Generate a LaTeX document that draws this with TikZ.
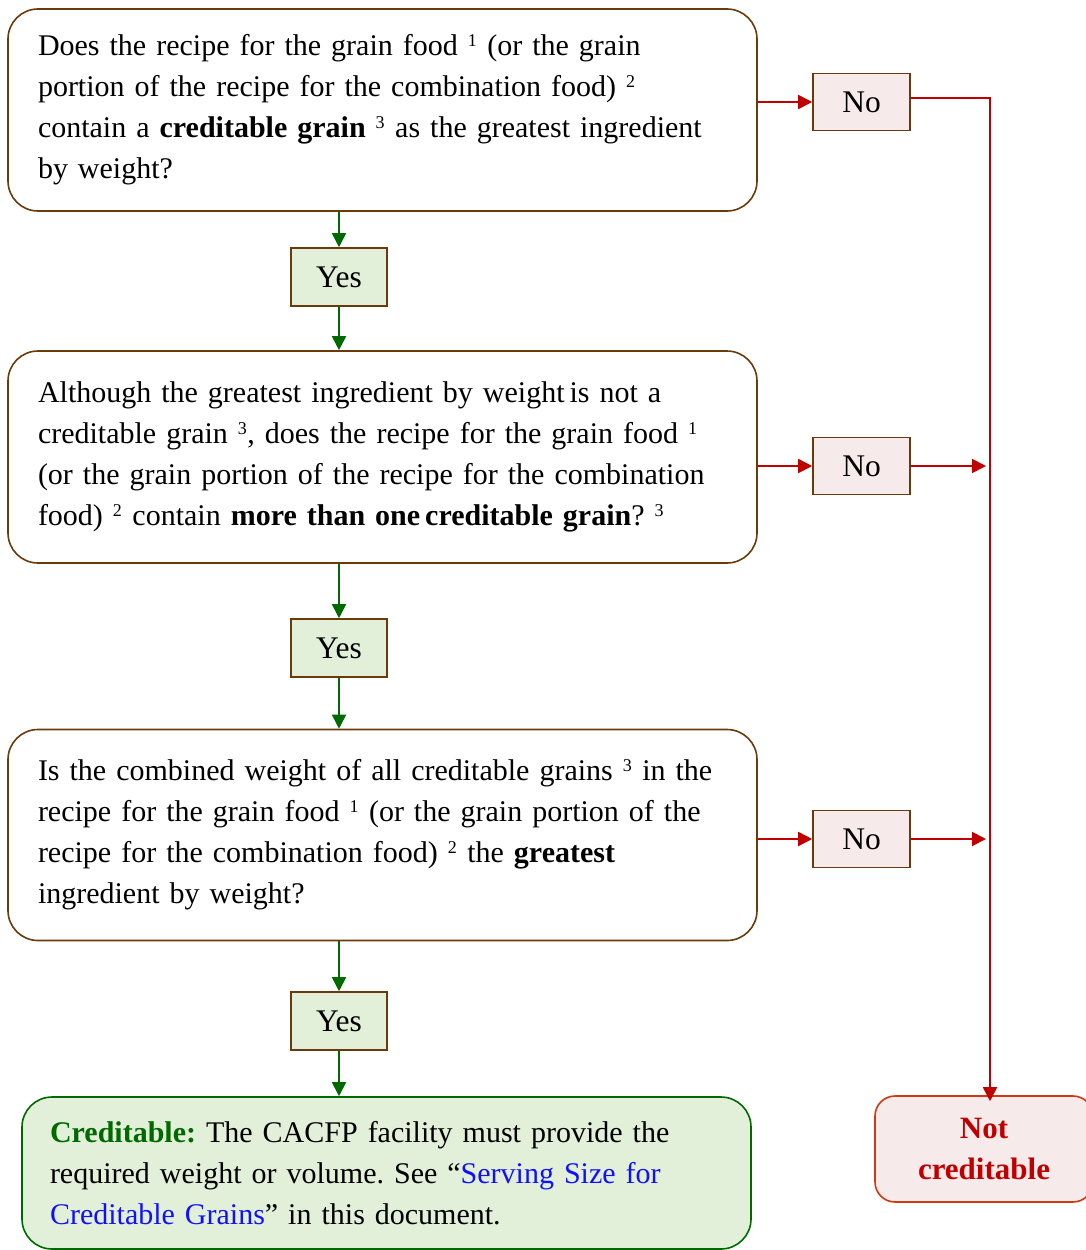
\documentclass[tikz,border=0pt]{standalone}
\usepackage{fontspec}
\setmainfont{Liberation Serif}
\usetikzlibrary{arrows.meta}
\definecolor{brownc}{HTML}{6B3A0A}
\definecolor{yesfill}{HTML}{E2EFD9}
\definecolor{nofill}{HTML}{F7EAEA}
\definecolor{redc}{HTML}{C00000}
\definecolor{greenc}{HTML}{006A00}
\definecolor{ncborder}{HTML}{D03A10}
\definecolor{linkblue}{HTML}{1010FF}
\newcommand{\sups}[1]{\textsuperscript{\fontsize{18}{18}\selectfont #1}}
\tikzset{
  qbox/.style={draw=brownc, line width=1.6pt, rounded corners=30pt, fill=white,
    minimum width=749pt, text width=689pt, inner xsep=30pt, inner ysep=0pt, align=left,
    font=\fontsize{30}{41}\selectfont\frenchspacing},
  yesbox/.style={draw=brownc, line width=1.6pt, fill=yesfill, minimum width=96pt, minimum height=58pt,
    inner sep=0pt, font=\fontsize{31.5}{33}\selectfont},
  nobox/.style={draw=brownc, line width=1.6pt, fill=nofill, minimum width=97pt, minimum height=57pt,
    inner sep=0pt, font=\fontsize{31.5}{33}\selectfont},
  garrow/.style={draw=greenc, line width=1.8pt, -{Triangle[length=14pt,width=14pt]}},
  rarrow/.style={draw=redc, line width=1.8pt, -{Triangle[length=14pt,width=14pt]}},
  rline/.style={draw=redc, line width=1.8pt},
}
\begin{document}
\begin{tikzpicture}[x=1pt,y=-1pt]
\useasboundingbox (0,0) rectangle (1086,1250);

\node[qbox, minimum height=202pt] (q1) at (382.5,110) {Does the recipe for the grain food \sups{1} (or the grain\\
portion of the recipe for the combination food) \sups{2}\\
contain a \textbf{creditable grain} \sups{3} as the greatest ingredient\\
by weight?};

\node[qbox, minimum height=212pt] (q2) at (382.5,457) {Although the greatest ingredient by weight\,is not a\\
creditable grain \sups{3}, does the recipe for the grain food \sups{1}\\
(or the grain portion of the recipe for the combination\\
food) \sups{2} contain \textbf{more than one\,creditable grain}? \sups{3}};

\node[qbox, minimum height=211pt] (q3) at (382.5,835) {Is the combined weight of all creditable grains \sups{3} in the\\
recipe for the grain food \sups{1} (or the grain portion of the\\
recipe for the combination food) \sups{2} the \textbf{greatest}\\
ingredient by weight?};

\node[yesbox] (y1) at (339,277) {Yes};
\node[yesbox] (y2) at (339,648) {Yes};
\node[yesbox] (y3) at (339,1021) {Yes};

\node[nobox] (n1) at (861.5,102) {No};
\node[nobox] (n2) at (861.5,466) {No};
\node[nobox] (n3) at (861.5,839) {No};

\node[draw=greenc, line width=1.6pt, fill=yesfill, rounded corners=30pt,
  minimum width=729pt, minimum height=152pt, text width=673pt, inner xsep=28pt, inner ysep=0pt,
  align=left, font=\fontsize{30}{41}\selectfont\frenchspacing] (ok) at (386.5,1173)
  {\textcolor{greenc}{\textbf{Creditable:}} The CACFP facility must provide the\\
  required weight or volume. See “\textcolor{linkblue}{Serving Size for}\\
  \textcolor{linkblue}{Creditable Grains}” in this document.};

\node[draw=ncborder, line width=1.6pt, fill=nofill, rounded corners=20pt,
  minimum width=218pt, minimum height=106pt, inner sep=0pt, align=center,
  text=redc, font=\fontsize{31}{41}\selectfont\bfseries] (nc) at (984,1149) {Not\\creditable};

\coordinate (r1) at (990,98);
\coordinate (r2) at (990,466);
\coordinate (r3) at (990,839);

% yes arrows
\draw[garrow] (q1.south -| y1.north) -- (y1.north);
\draw[garrow] (y1.south) -- (q2.north -| y1.south);
\draw[garrow] (q2.south -| y2.north) -- (y2.north);
\draw[garrow] (y2.south) -- (q3.north -| y2.south);
\draw[garrow] (q3.south -| y3.north) -- (y3.north);
\draw[garrow] (y3.south) -- (ok.north -| y3.south);

% no arrows
\draw[rarrow] (q1.east |- n1.west) -- (n1.west);
\draw[rarrow] (q2.east |- n2.west) -- (n2.west);
\draw[rarrow] (q3.east |- n3.west) -- (n3.west);
\draw[rline] (n1.east |- r1) -- (r1) -- (r1 |- nc.north);
\draw[rarrow] (r1) -- ([yshift=-6pt]r1 |- nc.north);
\draw[rarrow, shorten >=4pt] (n2.east |- r2) -- (r2);
\draw[rarrow, shorten >=4pt] (n3.east |- r3) -- (r3);
\end{tikzpicture}
\end{document}
